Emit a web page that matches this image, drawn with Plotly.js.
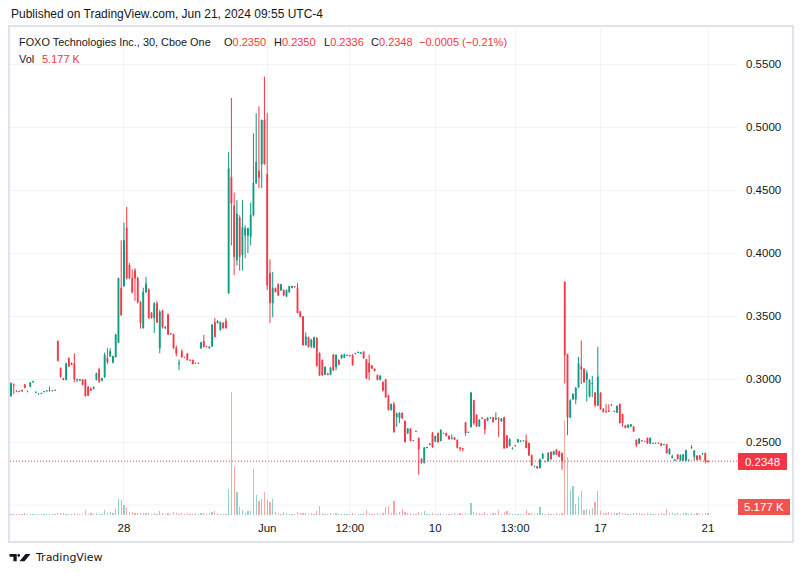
<!DOCTYPE html>
<html><head><meta charset="utf-8">
<script src="https://cdn.plot.ly/plotly-3.0.1.min.js"></script>
<style>html,body{margin:0;padding:0;background:#fff}#chart{width:804px;height:578px}</style>
</head><body><div id="chart"></div>
<script>
// ---- data (30-min candles, FOXO, price in USD, volume in thousands) ----
const open = [.2865,.2955,.2905,.2905,.2910,.2955,.2900,.2940,.2975,.2893,.2880,.2884,.2898,.2904,.2905,.2906,.2912,
.3300,.3085,.3005,.2995,.3165,.3125,.3120,.2995,.2990,.2995,.2995,.2935,.2920,.2925,.2995,.3075,.2990,
.3015,.3165,.3180,.3130,.3175,.3290,.3720,.3740,.4200,.3905,.3800,.3860,.3800,.3610,.3405,.3690,.3710,
.3525,.3485,.3600,.3245,.3540,.3405,.3510,.3360,.3355,.3245,.3120,.3220,.3172,.3200,.3150,.3150,.3125,
.3126,.3245,.3300,.3257,.3245,.3260,.3450,.3445,.3390,.3445,.3460,.3680,.4600,.4375,.3945,.4280,.3985,
.4140,.4140,.4130,.4300,.4555,.4650,.4705,.5055,.4625,.3840,.3605,.3720,.3750,.3705,.3705,.3655,.3690,
.3725,.3732,.3720,.3535,.3495,.3270,.3330,.3260,.3250,.3325,.3205,.3150,.3035,.3040,.3035,.3190,.3095,
.3150,.3165,.3170,.3185,.3188,.3190,.3200,.3210,.3205,.3215,.3155,.3125,.3105,.3080,.3030,.2995,.2975,
.2995,.2870,.2755,.2800,.2700,.2690,.2730,.2665,.2570,.2605,.2510,.2583,.2530,.2365,.2335,.2455,.2480,
.2570,.2505,.2570,.2510,.2568,.2570,.2548,.2525,.2535,.2515,.2455,.2450,.2655,.2575,.2620,.2830,.2715,
.2625,.2690,.2680,.2670,.2690,.2695,.2680,.2690,.2665,.2695,.2550,.2470,.2450,.2470,.2500,.2505,.2510,
.2510,.2490,.2395,.2305,.2305,.2295,.2370,.2345,.2350,.2420,.2400,.2440,.2425,.2410,.3770,.3195,.2695,
.2840,.2840,.2935,.3100,.3080,.2995,.2860,.2960,.2890,.2790,.2890,.2760,.2740,.2745,.2795,.2745,.2735,
.2800,.2720,.2630,.2615,.2625,.2620,.2515,.2490,.2510,.2505,.2530,.2490,.2488,.2490,.2492,.2488,.2478,
.2480,.2405,.2375,.2355,.2400,.2355,.2355,.2352,.2355,.2460,.2385,.2390,.2392,.2405,.2410,.2350];
const high = [.2975,.2965,.2910,.2905,.2915,.2960,.2905,.2975,.2985,.2898,.2885,.2888,.2902,.2908,.2940,.2908,.2914,
.3305,.3090,.3008,.3130,.3170,.3130,.3205,.3000,.3000,.3000,.2995,.2945,.2935,.2940,.3050,.3090,.3010,
.3210,.3245,.3245,.3185,.3360,.3800,.4100,.4240,.4365,.3920,.3870,.3880,.3810,.3620,.3725,.3810,.3720,
.3530,.3610,.3620,.3550,.3550,.3420,.3520,.3365,.3360,.3265,.3155,.3235,.3175,.3205,.3152,.3152,.3127,
.3128,.3295,.3350,.3258,.3258,.3435,.3485,.3465,.3455,.3450,.3485,.4800,.5230,.4480,.4420,.4300,.4420,
.4220,.4200,.4400,.4950,.5110,.5165,.5055,.5400,.5110,.3950,.3850,.3725,.3760,.3755,.3710,.3710,.3740,
.3740,.3735,.3760,.3540,.3500,.3370,.3335,.3320,.3335,.3330,.3210,.3155,.3100,.3050,.3095,.3200,.3195,
.3155,.3195,.3200,.3190,.3190,.3195,.3205,.3215,.3210,.3220,.3160,.3195,.3110,.3082,.3035,.3030,.2980,
.3000,.2875,.2805,.2820,.2735,.2735,.2735,.2670,.2610,.2610,.2512,.2587,.2535,.2370,.2460,.2460,.2490,
.2580,.2550,.2575,.2600,.2572,.2572,.2550,.2560,.2540,.2520,.2460,.2452,.2660,.2580,.2895,.2835,.2720,
.2680,.2695,.2685,.2695,.2695,.2698,.2735,.2695,.2690,.2700,.2555,.2530,.2455,.2472,.2525,.2510,.2515,
.2560,.2495,.2400,.2310,.2307,.2370,.2410,.2350,.2420,.2425,.2430,.2445,.2430,.2415,.3775,.3200,.2840,
.2885,.2935,.3175,.3305,.3085,.3070,.3000,.3025,.2895,.3255,.2895,.2770,.2800,.2800,.2800,.2748,.2790,
.2805,.2725,.2635,.2640,.2640,.2625,.2520,.2530,.2512,.2507,.2535,.2535,.2492,.2492,.2493,.2490,.2482,
.2482,.2450,.2400,.2360,.2405,.2400,.2405,.2440,.2358,.2475,.2435,.2395,.2395,.2410,.2415,.2350];
const low = [.2860,.2880,.2900,.2900,.2900,.2930,.2895,.2935,.2975,.2890,.2878,.2882,.2896,.2903,.2904,.2905,.2908,
.3140,.3010,.2990,.2990,.3100,.3110,.2975,.2975,.2985,.2950,.2862,.2865,.2905,.2915,.2990,.2970,.2980,
.3010,.3120,.3175,.3125,.3170,.3285,.3500,.3730,.3790,.3795,.3680,.3620,.3600,.3400,.3400,.3685,.3480,
.3480,.3365,.3445,.3205,.3400,.3395,.3350,.3355,.3240,.3180,.3070,.3170,.3168,.3150,.3148,.3118,.3122,
.3124,.3240,.3255,.3254,.3244,.3255,.3330,.3440,.3385,.3400,.3400,.3680,.4060,.3825,.3900,.3860,.3860,
.3960,.4000,.4060,.4290,.4550,.4515,.4515,.4705,.3705,.3445,.3490,.3690,.3660,.3700,.3660,.3650,.3685,
.3720,.3730,.3520,.3490,.3265,.3265,.3250,.3245,.3245,.3100,.3025,.3025,.3030,.3030,.3030,.3065,.3070,
.3110,.3160,.3165,.3182,.3180,.3110,.3198,.3205,.3200,.3165,.3000,.2990,.3080,.3060,.2990,.2990,.2900,
.2855,.2750,.2750,.2575,.2620,.2650,.2685,.2500,.2565,.2505,.2508,.2582,.2240,.2330,.2330,.2450,.2475,
.2455,.2500,.2495,.2505,.2565,.2545,.2520,.2522,.2515,.2450,.2425,.2425,.2550,.2572,.2615,.2635,.2620,
.2620,.2685,.2560,.2665,.2688,.2655,.2675,.2540,.2660,.2450,.2450,.2465,.2440,.2468,.2495,.2500,.2505,
.2450,.2390,.2310,.2300,.2290,.2290,.2365,.2343,.2345,.2360,.2395,.2400,.2380,.2280,.2965,.2555,.2690,
.2835,.2800,.2930,.2960,.2970,.2820,.2855,.2855,.2775,.2785,.2760,.2735,.2735,.2740,.2790,.2740,.2730,
.2650,.2620,.2610,.2610,.2620,.2580,.2460,.2485,.2507,.2502,.2485,.2485,.2486,.2488,.2489,.2470,.2476,
.2410,.2400,.2372,.2352,.2363,.2352,.2350,.2350,.2352,.2445,.2352,.2355,.2360,.2400,.2330,.2336];
const close = [.2965,.2950,.2900,.2900,.2905,.2930,.2902,.2970,.2980,.2896,.2883,.2887,.2900,.2906,.2907,.2907,.2910,
.3145,.3018,.2995,.3120,.3100,.3115,.3000,.2998,.2995,.2955,.2865,.2870,.2910,.2935,.3045,.2980,.3005,
.3190,.3135,.3220,.3180,.3350,.3800,.3510,.4100,.3800,.3800,.3690,.3800,.3610,.3445,.3690,.3755,.3485,
.3485,.3600,.3450,.3530,.3410,.3410,.3355,.3358,.3245,.3205,.3125,.3175,.3170,.3150,.3149,.3120,.3124,
.3125,.3290,.3255,.3255,.3255,.3430,.3335,.3460,.3450,.3405,.3405,.4670,.4395,.3970,.4310,.3970,.4205,
.4195,.4195,.4300,.4555,.4720,.4600,.5055,.4705,.3745,.3605,.3720,.3690,.3665,.3750,.3665,.3705,.3735,
.3735,.3730,.3525,.3495,.3270,.3335,.3255,.3310,.3330,.3105,.3030,.3030,.3095,.3035,.3090,.3070,.3190,
.3115,.3190,.3195,.3188,.3185,.3110,.3203,.3213,.3208,.3165,.3005,.3055,.3085,.3065,.2995,.3025,.2910,
.2855,.2755,.2800,.2580,.2725,.2730,.2690,.2500,.2605,.2510,.2511,.2586,.2445,.2335,.2455,.2458,.2485,
.2460,.2545,.2500,.2595,.2567,.2550,.2522,.2530,.2518,.2455,.2450,.2448,.2570,.2578,.2890,.2650,.2625,
.2675,.2688,.2600,.2690,.2692,.2660,.2690,.2685,.2685,.2450,.2455,.2520,.2452,.2469,.2520,.2508,.2512,
.2455,.2395,.2315,.2307,.2292,.2360,.2405,.2344,.2410,.2365,.2425,.2400,.2385,.2350,.3190,.2695,.2830,
.2880,.2930,.3125,.3080,.2975,.3045,.2990,.2965,.2795,.3015,.2760,.2740,.2738,.2742,.2792,.2742,.2785,
.2650,.2650,.2612,.2635,.2638,.2585,.2475,.2525,.2509,.2504,.2490,.2530,.2490,.2491,.2490,.2472,.2480,
.2412,.2445,.2382,.2358,.2365,.2395,.2400,.2432,.2356,.2455,.2430,.2358,.2362,.2408,.2353,.2348];
const volume = [3,2,3,2,3,4,2,3,2,2,2,3,2,2,3,2,2,
4,5,5,3,2,3,4,3,2,3,11,3,4,3,4,3,3,
11,4,7,4,13.5,36,34,22.5,18,6,6,5,5,5,5,4,4,
3,4,3,9,5,3,4,3,6,4,3,4,3,4,3,3,4,
3,5,5,3,4,7,9,4,3,3,3,58,276,111,52,18,11,
5,9,9,103,45,31.5,36,52,34,29,36,7,5,3,6,4,3,
3,3,6,4,5,4,3,4,3,9,21,4,3,3,4,3,4,
3,3,3,2,2,4,3,3,3,4,11,5,3,3,4,3,5,
18,21,5,31,4,7,13,6,4,5,3,3,7,5,9,3,3,
4,3,3,4,3,3,3,3,4,3,4,3,4,3,27,6,5,
4,3,6,3,3,4,4,11,3,6,8,4,3,3,3,3,3,
11,5,4,3,4,18,4,3,4,3,3,5,3,5,214,130,56,
65,25,40,54,11,13,11,15,29,54,9,5,4,6,4,5,4,
6,5,4,3,3,4,5,4,3,3,4,4,3,2,3,4,3,
13,5,4,3,4,3,4,5,3,4,3,4,3,3,5,5.177];
const tickIndex = [41, 93, 123, 154, 183, 214, 253];
const tickLabels = ['28', 'Jun', '12:00', '10', '13:00', '17', '21'];
const priceTicks = [0.25, 0.30, 0.35, 0.40, 0.45, 0.50, 0.55];
const hiddenGridPrice = [0.20];
const symbolLabel = 'FOXO Technologies Inc., 30, Cboe One';
const publishedLabel = 'Published on TradingView.com, Jun 21, 2024 09:55 UTC-4';
const volUnitLabel = '5.177 K';

// ---- styling / geometry ----
const UP = '#089981', DOWN = '#F23645', TXT = '#131722', GRID = '#f0f3fa';
const VUP = 'rgba(38,166,154,0.5)', VDOWN = 'rgba(239,83,80,0.5)';
const W = 804, H = 578, L = 10, R = 737, T = 28, B = 515;
const FONT = 'Liberation Sans, Arial, sans-serif';
const px = x => (x - L) / (R - L);
const py = y => (B - y) / (B - T);
const n = open.length;
const idx = Array.from({length: n}, (_, i) => i);
const last = n - 1;
const pitch = 697 / last;
const xr = [-(1 / pitch), last + (R - 708) / pitch];
const yr = [0.19206, 0.57857];
const volMax = Math.max(...volume);
const y2r = [0, volMax * (B - T) / 123];
const volColors = idx.map(i => close[i] >= open[i] ? VUP : VDOWN);

const traces = [
  {type: 'candlestick', x: idx, open, high, low, close, xaxis: 'x', yaxis: 'y',
   increasing: {line: {color: UP, width: 1}, fillcolor: UP},
   decreasing: {line: {color: DOWN, width: 1}, fillcolor: DOWN},
   whiskerwidth: 0, hoverinfo: 'skip', showlegend: false},
  {type: 'bar', x: idx, y: volume, yaxis: 'y2', width: 0.45,
   marker: {color: volColors, line: {width: 0}}, hoverinfo: 'skip', showlegend: false}
];

const f4 = v => v.toFixed(4);
const chg = close[last] - close[last - 1];
const pct = chg / close[last - 1] * 100;
const sgn = s => s.replace('-', '\u2212');
const chgText = sgn(chg.toFixed(4)) + ' (' + sgn(pct.toFixed(2)) + '%)';
const red = s => `<span style="color:${DOWN}">${s}</span>`;

function ann(text, x, y, color, size, extra) {
  return Object.assign({text, x: px(x), y: py(y), xref: 'paper', yref: 'paper',
    xanchor: 'left', yanchor: 'middle', showarrow: false,
    font: {family: FONT, size: size || 11.5, color: color || TXT}}, extra || {});
}

const annotations = [
  ann(publishedLabel, 9, 14, TXT, 12),
  ann(symbolLabel, 16.5, 42.5, TXT, 10.9),
  ann('O' + red(f4(open[last])), 221.7, 42.5, TXT, 11),
  ann('H' + red(f4(high[last])), 272.3, 42.5, TXT, 11),
  ann('L' + red(f4(low[last])), 321.7, 42.5, TXT, 11),
  ann('C' + red(f4(close[last])), 369, 42.5, TXT, 11),
  ann(chgText, 417.3, 42.5, DOWN, 11),
  ann('Vol', 16.5, 59.3, TXT, 11), ann(volUnitLabel, 39.7, 59.3, DOWN, 11),
  {text: f4(close[last]), x: px(738), xref: 'paper', y: close[last], yref: 'y',
   xanchor: 'left', yanchor: 'middle', showarrow: false, bgcolor: DOWN,
   bordercolor: DOWN, borderwidth: 1, borderpad: 2, width: 43, height: 11,
   font: {family: FONT, size: 11.5, color: '#ffffff'}},
  {text: volUnitLabel, x: px(738), xref: 'paper', y: py(507), yref: 'paper',
   xanchor: 'left', yanchor: 'middle', showarrow: false, bgcolor: '#EF5350',
   bordercolor: '#EF5350', borderwidth: 1, borderpad: 2, width: 46, height: 10,
   font: {family: FONT, size: 11.5, color: '#ffffff'}},
  ann('TradingView', 33, 557, TXT, 11, {font: {family: 'DejaVu Sans, sans-serif', size: 11, color: TXT}})
];

const shapes = [
  ...hiddenGridPrice.map(p => ({type: 'line', xref: 'paper', yref: 'y', x0: 0, x1: 1, y0: p, y1: p,
    layer: 'below', line: {color: GRID, width: 1}})),
  {type: 'line', xref: 'paper', yref: 'y', x0: 0, x1: 1, y0: close[last], y1: close[last],
   line: {color: DOWN, width: 1, dash: '1px,2px'}},
  {type: 'rect', xref: 'paper', yref: 'paper', x0: px(9), x1: px(793), y0: py(542), y1: py(26),
   line: {color: '#e0e3eb', width: 2}, fillcolor: 'rgba(0,0,0,0)', layer: 'above'},
  // TradingView logo mark
  {type: 'path', xref: 'paper', yref: 'paper', fillcolor: TXT, line: {width: 0},
   path: `M${px(9.5)},${py(554)} L${px(16.7)},${py(554)} L${px(16.7)},${py(561.3)} L${px(13.4)},${py(561.3)} L${px(13.4)},${py(556.8)} L${px(9.5)},${py(556.8)} Z`},
  {type: 'circle', xref: 'paper', yref: 'paper', fillcolor: TXT, line: {width: 0},
   x0: px(17.3), x1: px(20.1), y0: py(556.8), y1: py(554)},
  {type: 'path', xref: 'paper', yref: 'paper', fillcolor: TXT, line: {width: 0},
   path: `M${px(19.5)},${py(561.3)} L${px(24.5)},${py(561.3)} L${px(30.5)},${py(554)} L${px(25.5)},${py(554)} Z`}
];

const layout = {
  width: W, height: H, paper_bgcolor: '#ffffff', plot_bgcolor: '#ffffff',
  margin: {l: L, r: W - R, t: T, b: H - B, pad: 0},
  showlegend: false, boxgap: 0.55, bargap: 0,
  font: {family: FONT, size: 11.5, color: TXT},
  xaxis: {range: xr, tickvals: tickIndex, ticktext: tickLabels, showgrid: true,
    gridcolor: GRID, gridwidth: 1, zeroline: false, showline: false, ticks: '',
    tickfont: {family: FONT, size: 11.5, color: TXT}, rangeslider: {visible: false},
    fixedrange: true, ticklabelstandoff: 4},
  yaxis: {range: yr, side: 'right', tickvals: priceTicks, tickformat: '.4f',
    showgrid: true, gridcolor: GRID, gridwidth: 1, zeroline: false, showline: false,
    ticks: '', tickfont: {family: FONT, size: 11.5, color: TXT}, fixedrange: true,
    ticklabelstandoff: 8},
  yaxis2: {range: y2r, overlaying: 'y', side: 'left', visible: false, fixedrange: true,
    showgrid: false, zeroline: false},
  annotations, shapes
};

Plotly.newPlot('chart', traces, layout, {staticPlot: true, displayModeBar: false});
</script>
</body></html>
